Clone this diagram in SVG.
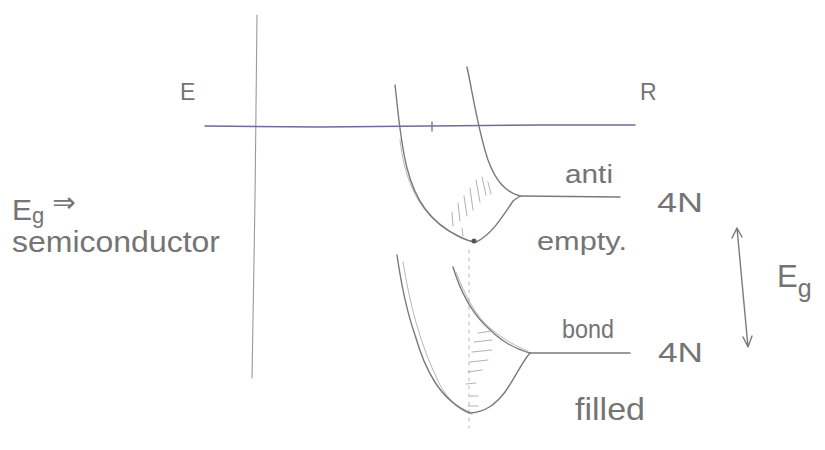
<svg xmlns="http://www.w3.org/2000/svg" width="825" height="450" viewBox="0 0 825 450">
<style>
.pen{fill:none;stroke:#7a7a7a;stroke-width:1.4;stroke-linecap:round;stroke-linejoin:round}
.faint{fill:none;stroke:#b8b8b8;stroke-width:1;stroke-linecap:round}
.hatch{fill:none;stroke:#a8a8a8;stroke-width:0.9;stroke-linecap:round}
.t{font-family:"Liberation Sans","DejaVu Sans",sans-serif;fill:#747474}
</style>
<rect width="825" height="450" fill="#ffffff"/>
<g id="axes">
  <path class="faint" d="M257,15 L255,200 L252,378" style="stroke:#9a9a9a;stroke-width:1.1"/>
  <path class="pen" d="M205,126 L320,127 L430,126 L540,125 L635,125" style="stroke:#6e6c98;stroke-width:1.6"/>
  <path class="pen" d="M432,122 L432,131"/>
  <text class="t" x="180" y="100" font-size="23">E</text>
  <text class="t" x="640" y="100" font-size="23">R</text>
</g>
<g id="antibonding-band">
  <path class="faint" d="M400,140 C404,175 415,205 440,225 C455,236 465,240 474,242"/>
  <path class="pen" d="M395,85 C398,110 400,140 407,168 C415,200 430,222 458,236 C466,240 472,242 476,242 C490,236 502,218 513,201 L520,196"/>
  <path class="pen" d="M467,67 C473,95 478,130 488,160 C496,182 506,192 520,196"/>
  <path class="pen" d="M520,196 L620,197"/>
  <circle cx="474" cy="241" r="2.5" fill="#555"/>
  <path class="hatch" d="M458,203 l2,18 M464,196 l3,20 M470,188 l3,22 M476,180 l4,22 M482,177 l4,18 M488,182 l3,12 M452,212 l1,14 M462,228 l1,8"/>
  <text class="t" x="565" y="183" font-size="25" textLength="48" lengthAdjust="spacingAndGlyphs">anti</text>
  <text class="t" x="657" y="212" font-size="27" textLength="46" lengthAdjust="spacingAndGlyphs">4N</text>
  <text class="t" x="537" y="250" font-size="26" textLength="90" lengthAdjust="spacingAndGlyphs">empty.</text>
</g>
<g id="bonding-band">
  <path class="faint" d="M469,250 L469,428" stroke-dasharray="3 5"/>
  <path class="faint" d="M403,262 C410,305 420,345 440,385 C452,405 462,412 472,414"/>
  <path class="pen" d="M397,255 C402,290 408,315 415,335 C425,370 440,400 470,413 C485,412 495,405 505,392 C515,378 522,362 530,353"/>
  <path class="pen" d="M453,267 C460,290 470,310 485,325 C500,340 512,348 530,353"/>
  <path class="faint" d="M456,272 C465,295 475,315 490,328 C505,340 515,346 528,351"/>
  <path class="pen" d="M530,353 L630,353"/>
  <path class="hatch" d="M478,333 l14,-2 M474,342 l18,-2 M472,352 l20,-2 M470,362 l18,-2 M468,372 l14,-2 M466,384 l10,-1 M470,396 l8,0 M468,406 l10,0"/>
  <text class="t" x="562" y="338" font-size="26" textLength="52" lengthAdjust="spacingAndGlyphs">bond</text>
  <text class="t" x="658" y="362" font-size="27" textLength="45" lengthAdjust="spacingAndGlyphs">4N</text>
  <text class="t" x="575" y="420" font-size="32" textLength="70" lengthAdjust="spacingAndGlyphs">filled</text>
</g>
<g id="gap-arrow">
  <path class="pen" d="M737,228 L748,347 M732,238 L737,228 L742,237 M743,337 L748,347 L752,336"/>
  <text class="t" x="777" y="287" font-size="31">E<tspan font-size="25" dy="10">g</tspan></text>
</g>
<g id="note">
  <text class="t" x="12" y="220" font-size="30">E<tspan font-size="22" dy="3">g</tspan><tspan font-family="DejaVu Sans" font-size="28" dx="8" dy="-11">⇒</tspan></text>
  <text class="t" x="12" y="252" font-size="29" textLength="208" lengthAdjust="spacingAndGlyphs">semiconductor</text>
</g>
</svg>
